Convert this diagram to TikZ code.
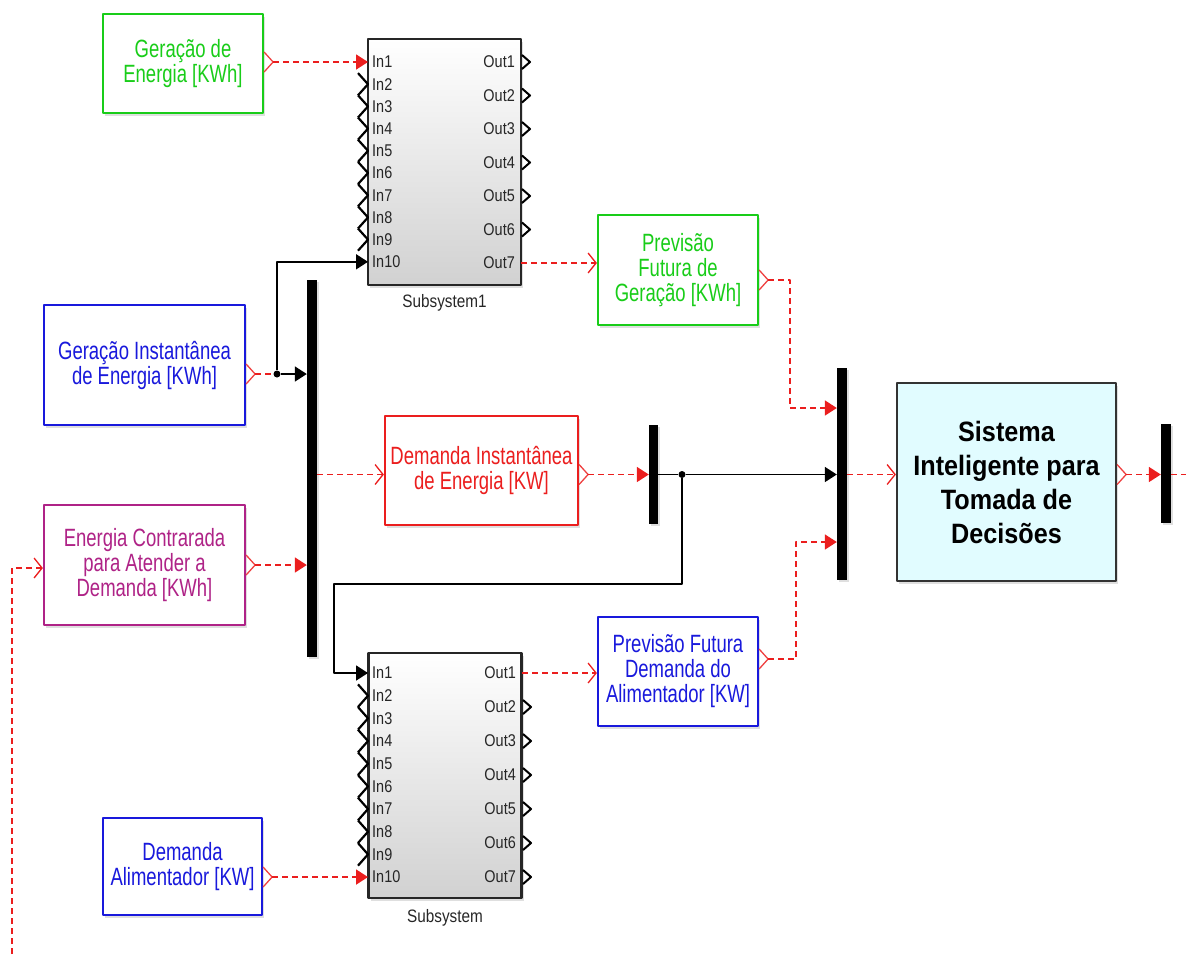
\documentclass[tikz,border=0pt]{standalone}
\usepackage{fontspec}
\setmainfont{Liberation Sans}
\newfontfamily\blkfont[FakeStretch=0.74]{Liberation Sans}
\newfontfamily\portfont[FakeStretch=0.85]{Liberation Sans}
\newfontfamily\sysfont[FakeStretch=0.9]{Liberation Sans}
\usetikzlibrary{arrows.meta,shadows}
\definecolor{simred}{RGB}{235,30,30}
\definecolor{simgreen}{RGB}{25,205,25}
\definecolor{simblue}{RGB}{25,25,220}
\definecolor{simmag}{RGB}{175,35,135}
\definecolor{simcyan}{RGB}{225,252,255}
\begin{document}
\begin{tikzpicture}[x=1pt,y=-1pt,line join=round,>={Triangle[length=12pt,width=15pt]}]
	\tikzset{
		blk/.style={draw,line width=2.2pt,fill=white,align=center,inner sep=2pt,
			font=\blkfont\fontsize{25}{25}\selectfont,
			drop shadow={shadow xshift=2pt,shadow yshift=-3pt,opacity=.25}},
		subsys/.style={draw=black!85,line width=2.2pt,top color=white,bottom color=black!18,
			minimum width=153pt,minimum height=245pt,
			drop shadow={shadow xshift=2pt,shadow yshift=-3pt,opacity=.25}},
		bar/.style={fill=black,minimum width=10pt,inner sep=0pt,
			drop shadow={shadow xshift=2pt,shadow yshift=-2pt,opacity=.25}},
		dot/.style={circle,fill=black,inner sep=0pt,minimum size=7pt},
		port/.style={font=\portfont\fontsize{17}{17}\selectfont,inner sep=0pt,text=black!85},
		sig/.style={simred,line width=1.8pt,dash pattern=on 6pt off 4pt},
		wire/.style={black,line width=1.8pt},
		opentip/.style={-{Straight Barb[length=8pt,width=20pt,line width=1.3pt]}},
		omark/.pic={\draw[simred!85,line width=1.3pt,solid] (0,-10) -- (9,0) -- (0,10);}
	}
	\useasboundingbox (0,0) rectangle (1186,954);
	\node[blk,draw=simgreen,text=simgreen,minimum width=160pt,minimum height=99pt] (gerEn) at (183,63.5) {Geração de\\Energia [KWh]};
	\node[blk,draw=simblue,text=simblue,minimum width=201pt,minimum height=120pt] (gerInst) at (144.5,365) {Geração Instantânea\\de Energia [KWh]};
	\node[blk,draw=simmag,text=simmag,minimum width=201pt,minimum height=120pt] (enCont) at (144.5,565) {Energia Contrarada\\para Atender a\\Demanda [KWh]};
	\node[blk,draw=simblue,text=simblue,minimum width=159pt,minimum height=97pt] (demAl) at (182.5,866.5) {Demanda\\Alimentador [KW]};
	\node[blk,draw=simred,text=simred,minimum width=193pt,minimum height=109pt] (demInst) at (481.5,470.5) {Demanda Instantânea\\de Energia [KW]};
	\node[blk,draw=simgreen,text=simgreen,minimum width=160pt,minimum height=110pt] (prevGer) at (678,270) {Previsão\\Futura de\\Geração [KWh]};
	\node[blk,draw=simblue,text=simblue,minimum width=160pt,minimum height=109pt] (prevDem) at (678,671.5) {Previsão Futura\\Demanda do\\Alimentador [KW]};
	\node[blk,draw=black!80,fill=simcyan,minimum width=219pt,minimum height=198pt,
		font=\sysfont\bfseries\fontsize{28}{34}\selectfont] (sist) at (1006.5,482) {Sistema\\Inteligente para\\Tomada de\\Decisões};
	\node[subsys,minimum height=246pt] (sub1) at (444.5,162) {};
	\node[subsys] (sub2) at (445,775.5) {};
	\node[port,font=\portfont\fontsize{18}{18}\selectfont] (sub1lab) at (444.5,303) {Subsystem1};
	\node[port,font=\portfont\fontsize{18}{18}\selectfont] (sub2lab) at (445,918) {Subsystem};
	\node[bar,minimum height=377pt] (bar1) at (312,468.5) {};
	\node[bar,minimum width=9pt,minimum height=99pt] (bar2) at (653.5,474.5) {};
	\node[bar,minimum height=212pt] (bar3) at (842,474) {};
	\node[bar,minimum height=99pt] (bar4) at (1166,473.5) {};
	\foreach \i in {1,...,10}{
		\coordinate (aI\i) at (368,{62+(\i-1)*22.2});
		\coordinate (bI\i) at (368,{673+(\i-1)*22.67});
		\node[port,anchor=west] (aIl\i) at ([xshift=4pt]aI\i) {In\i};
		\node[port,anchor=west] (bIl\i) at ([xshift=4pt]bI\i) {In\i};
	}
	\foreach \j in {1,...,7}{
		\coordinate (aO\j) at (521,{62+(\j-1)*33.5});
		\coordinate (bO\j) at (522,{673+(\j-1)*34});
		\node[port,anchor=east] (aOl\j) at ([xshift=-6pt]aO\j) {Out\j};
		\node[port,anchor=east] (bOl\j) at ([xshift=-6pt]bO\j) {Out\j};
	}
	\foreach \i in {2,...,9}{
		\draw[line width=2.2pt] ([shift={(-10,-11.1)}]aI\i) -- (aI\i) -- ([shift={(-10,11.1)}]aI\i);
		\draw[line width=2.2pt] ([shift={(-10,-11.3)}]bI\i) -- (bI\i) -- ([shift={(-10,11.3)}]bI\i);
	}
	\foreach \j in {1,...,6}
	\draw[line width=2pt] ([shift={(1,-7)}]aO\j) -- ([shift={(9,0)}]aO\j) -- ([shift={(1,7)}]aO\j);
	\foreach \j in {2,...,7}
	\draw[line width=2pt] ([shift={(1,-7)}]bO\j) -- ([shift={(9,0)}]bO\j) -- ([shift={(1,7)}]bO\j);
	\node[dot] (jA) at (277,374) {};
	\node[dot] (jB) at (682,474.5) {};
	\coordinate (kB) at (334,584);
	\coordinate (pg) at ([yshift=-10pt]prevGer.east);
	\coordinate (pd) at ([yshift=12.5pt]prevDem.east);
	\coordinate (g3) at (790,408);
	\coordinate (g4) at (796,542);
	\coordinate (fb) at (12,954);
	\coordinate (outR) at (1186,474.5);
	\foreach \p in {gerEn.east |- aI1,gerInst.east |- jA,enCont.east,demInst.east |- jB,pg,pd,sist.east |- jB,demAl.east |- bI10}
	\path (\p) pic{omark};
	\draw[sig,->,shorten <=9pt] (gerEn.east |- aI1) -- (aI1);
	\draw[sig,shorten <=9pt] (gerInst.east |- jA) -- (jA);
	\draw[wire,->] (jA) -- (bar1.west |- jA);
	\draw[wire,->] (jA) |- (aI10);
	\draw[sig,->,shorten <=9pt] (enCont.east) -- (bar1.west |- enCont.east);
	\draw[sig,opentip] (fb) |- ([yshift=-3pt]enCont.west);
	\draw[sig,opentip] (bar1.east |- jB) -- (demInst.west |- jB);
	\draw[sig,->,shorten <=9pt] (demInst.east |- jB) -- (bar2.west |- jB);
	\draw[wire] (bar2.east |- jB) -- (jB);
	\draw[wire,->] (jB) -- (bar3.west |- jB);
	\draw[wire,->] (jB) |- (kB) |- (bI1);
	\draw[sig,opentip] (aO7) -- (prevGer.west |- aO7);
	\draw[sig,->,shorten <=9pt] (pg) -| (g3) -- (bar3.west |- g3);
	\draw[sig,opentip] (bO1) -- (prevDem.west |- bO1);
	\draw[sig,->,shorten <=9pt] (pd) -| (g4) -- (bar3.west |- g4);
	\draw[sig,opentip] (bar3.east |- jB) -- (sist.west |- jB);
	\draw[sig,->,shorten <=9pt] (sist.east |- jB) -- (bar4.west |- jB);
	\draw[sig] (bar4.east |- jB) -- (outR);
	\draw[sig,->,shorten <=9pt] (demAl.east |- bI10) -- (bI10);
\end{tikzpicture}
\end{document}
